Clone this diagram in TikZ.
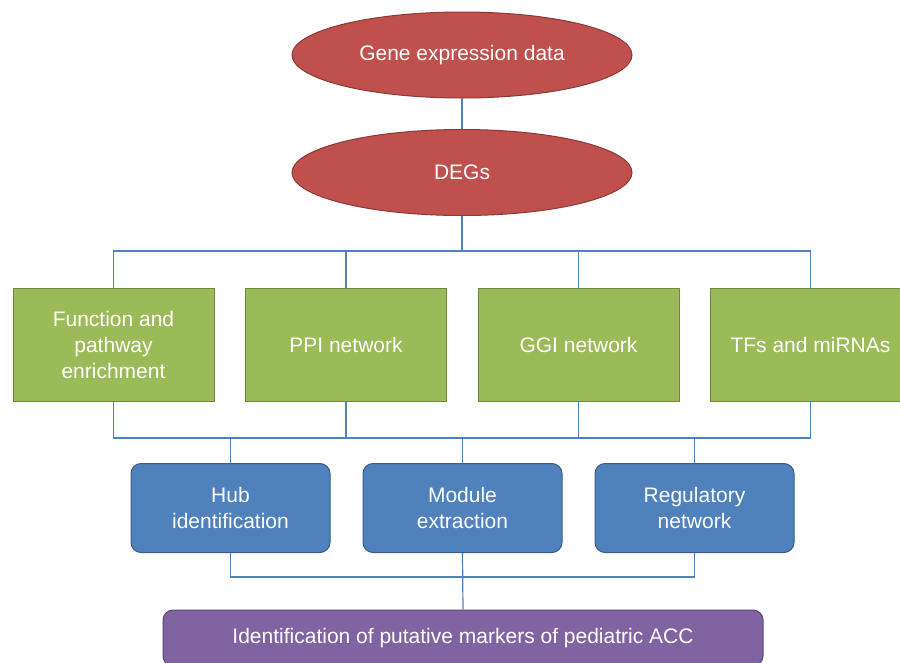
\documentclass[tikz,border=0pt]{standalone}
\usepackage{fontspec}
\setmainfont{Liberation Sans}
\usepackage{xcolor}
\usepackage{tikz}
\usetikzlibrary{shapes.geometric}

\definecolor{datared}{HTML}{C0504D}
\definecolor{datareddark}{HTML}{8C3836}
\definecolor{stepgreen}{HTML}{9BBB59}
\definecolor{stepgreendark}{HTML}{71893F}
\definecolor{resblue}{HTML}{4F81BD}
\definecolor{resbluedark}{HTML}{385D8A}
\definecolor{endpurple}{HTML}{8064A2}
\definecolor{endpurpledark}{HTML}{5C4776}
\definecolor{linkblue}{HTML}{4F81BD}

\tikzset{
  txt/.style={text=white, font=\fontsize{21}{26}\selectfont, align=center, inner sep=0pt},
  oval/.style={txt, ellipse, fill=datared, draw=datareddark, line width=1pt,
    minimum width=340pt, minimum height=86pt},
  greenbox/.style={txt, rectangle, fill=stepgreen, draw=stepgreendark, line width=1pt,
    minimum width=201pt, minimum height=113pt},
  bluebox/.style={txt, rectangle, rounded corners=10pt, fill=resblue, draw=resbluedark,
    line width=1pt, minimum width=199pt, minimum height=89pt},
  purplebox/.style={txt, rectangle, rounded corners=10pt, fill=endpurple, draw=endpurpledark,
    line width=1pt, minimum width=600pt, minimum height=56pt},
  link/.style={draw=linkblue, line width=1.2pt}
}

\begin{document}
\begin{tikzpicture}[x=1pt,y=-1pt]
\clip (0,0) rectangle (900,662);
% top of the flow
\node[oval] (gene) at (462,55) {Gene expression data};
\node[oval] (degs) at (462,172.5) {DEGs};
% analyses
\node[greenbox] (func) at (113.5,344.5) {Function and\\pathway\\enrichment};
\node[greenbox] (ppi) at (346,344.5) {PPI network};
\node[greenbox] (ggi) at (578.5,344.5) {GGI network};
\node[greenbox] (tfs) at (810.5,344.5) {TFs and miRNAs};
% results
\node[bluebox] (hub) at (230.5,508) {Hub\\identification};
\node[bluebox] (module) at (462.5,508) {Module\\extraction};
\node[bluebox] (reg) at (694.5,508) {Regulatory\\network};
\node[purplebox] (markers) at (463,638) {Identification of putative markers of pediatric ACC};
% bus lines
\coordinate (busA) at (0,251);
\coordinate (busB) at (0,438);
\coordinate (busC) at (0,577);
\draw[link] (gene) -- (degs);
\draw[link] (degs.south) -- (degs.south |- busA);
\draw[link] (func.north) -- (func.north |- busA) -- (tfs.north |- busA) -- (tfs.north);
\draw[link] (ppi.north) -- (ppi.north |- busA);
\draw[link] (ggi.north) -- (ggi.north |- busA);
\draw[link] (func.south) -- (func.south |- busB) -- (tfs.south |- busB) -- (tfs.south);
\draw[link] (ppi.south) -- (ppi.south |- busB);
\draw[link] (ggi.south) -- (ggi.south |- busB);
\foreach \n in {hub,module,reg}
  \draw[link] (\n.north) -- (\n.north |- busB);
\draw[link] (hub.south) -- (hub.south |- busC) -- (reg.south |- busC) -- (reg.south);
\draw[link] (module.south) -- (markers.north);
\end{tikzpicture}
\end{document}
